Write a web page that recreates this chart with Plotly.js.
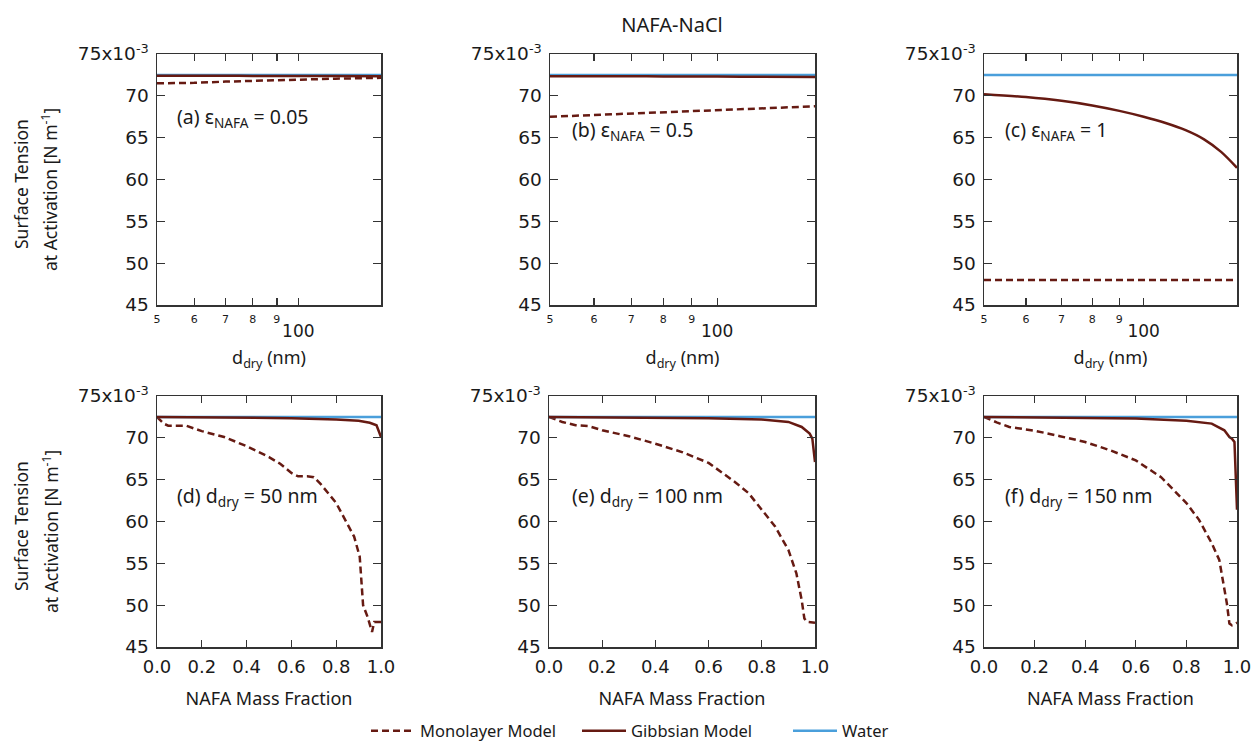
<!DOCTYPE html>
<html>
<head>
<meta charset="utf-8">
<script src="https://cdn.plot.ly/plotly-3.0.1.min.js"></script>
<style>html,body{margin:0;padding:0;background:#fff;}#chart{width:1252px;height:741px;}</style>
</head>
<body>
<div id="chart"></div>
<script>
// ---------- Data (surface tension in units of 1e-3 N m^-1) ----------
var waterST = 72.5;

// Top row: dry diameter (nm)
var ddryA = [50, 60, 70, 80, 90, 100, 120, 150];
var gibbsA = [72.4, 72.4, 72.4, 72.38, 72.38, 72.37, 72.36, 72.35];
var monoA = [71.5, 71.55, 71.7, 71.8, 71.9, 71.95, 72.05, 72.15];

var ddryB = [50, 60, 70, 80, 90, 100, 120, 150];
var gibbsB = [72.35, 72.35, 72.33, 72.32, 72.3, 72.3, 72.28, 72.25];
var monoB = [67.5, 67.7, 67.9, 68.07, 68.19, 68.3, 68.47, 68.75];

var ddryC = [50, 60, 70, 80, 90, 100, 110, 120, 130, 140, 150];
var gibbsC = [70.2, 69.85, 69.4, 68.85, 68.2, 67.5, 66.75, 65.9, 64.8, 63.3, 61.4];
var monoC = [48.0, 48.0, 48.0, 48.0, 48.0, 48.0, 48.0, 48.0, 48.0, 48.0, 48.0];

// Bottom row: NAFA mass fraction
var fracGibbsD = [0, 0.2, 0.4, 0.6, 0.8, 0.9, 0.95, 0.98, 1.0];
var gibbsD = [72.5, 72.45, 72.4, 72.35, 72.2, 72.05, 71.8, 71.5, 70.1];
var fracMonoD = [0, 0.03, 0.05, 0.1, 0.13, 0.2, 0.3, 0.4, 0.5, 0.55, 0.6, 0.63, 0.67, 0.7, 0.73, 0.8, 0.85, 0.88, 0.905, 0.915, 0.92, 0.94, 0.96, 0.97, 0.98, 1.0];
var monoD = [72.5, 71.7, 71.45, 71.5, 71.45, 70.8, 70.1, 69.0, 67.7, 66.9, 65.8, 65.4, 65.4, 65.3, 64.5, 62.2, 59.8, 58.2, 55.8, 52.6, 50.0, 48.6, 46.8, 48.0, 48.0, 48.0];

var fracGibbsE = [0, 0.2, 0.4, 0.6, 0.8, 0.9, 0.95, 0.98, 0.99, 1.0];
var gibbsE = [72.5, 72.45, 72.4, 72.35, 72.2, 71.9, 71.3, 70.5, 69.9, 67.1];
var fracMonoE = [0, 0.05, 0.1, 0.15, 0.2, 0.3, 0.4, 0.5, 0.6, 0.7, 0.75, 0.8, 0.85, 0.9, 0.93, 0.95, 0.96, 0.97, 1.0];
var monoE = [72.5, 71.9, 71.5, 71.4, 70.9, 70.2, 69.3, 68.3, 67.0, 64.7, 63.4, 61.4, 59.4, 56.6, 53.8, 50.6, 48.4, 48.0, 47.9];

var fracGibbsF = [0, 0.2, 0.4, 0.6, 0.8, 0.9, 0.95, 0.97, 0.98, 0.99, 1.0];
var gibbsF = [72.5, 72.45, 72.4, 72.3, 72.05, 71.7, 70.9, 70.1, 69.9, 69.5, 61.4];
var fracMonoF = [0, 0.05, 0.1, 0.2, 0.3, 0.4, 0.5, 0.6, 0.7, 0.8, 0.85, 0.9, 0.93, 0.95, 0.96, 0.97, 0.98, 1.0];
var monoF = [72.5, 71.85, 71.3, 70.85, 70.2, 69.5, 68.5, 67.3, 65.3, 62.2, 60.2, 57.4, 55.4, 52.2, 50.2, 47.8, 47.6, 47.9];

var ddryTickVals = [50, 60, 70, 80, 90, 100];
var ddryTickText = ['5', '6', '7', '8', '9', '<br><span style="font-size:17px">100</span>'];
var fracTickVals = [0, 0.2, 0.4, 0.6, 0.8, 1.0];
var fracTickText = ['0.0', '0.2', '0.4', '0.6', '0.8', '1.0'];
var yTickVals = [45, 50, 55, 60, 65, 70, 75];
var yTickText = ['45', '50', '55', '60', '65', '70', '75x10<sup>-3</sup>'];

var panelLabels = [
  '(a) \u03b5<sub>NAFA</sub> = 0.05',
  '(b) \u03b5<sub>NAFA</sub> = 0.5',
  '(c) \u03b5<sub>NAFA</sub> = 1',
  '(d) d<sub>dry</sub> = 50 nm',
  '(e) d<sub>dry</sub> = 100 nm',
  '(f) d<sub>dry</sub> = 150 nm'
];
var seriesNames = ['Monolayer Model', 'Gibbsian Model', 'Water'];
var yTitleLines = ['Surface Tension', 'at Activation [N m<sup>-1</sup>]'];

// ---------- Styling ----------
var W = 1252, H = 741;
var FONT = 'Noto Sans, Open Sans, sans-serif';
var NUMFONT = 'DejaVu Sans, Noto Sans, sans-serif';
var TXT = '#1a1a1a';
var RED = '#661a12';
var BLUE = '#4a9fdb';
function px(x) { return x / W; }
function py(y) { return 1 - y / H; }

var panels = [
  {x0: 157, x1: 381, y0: 54, y1: 305},
  {x0: 550, x1: 815, y0: 54, y1: 305},
  {x0: 984, x1: 1237, y0: 54, y1: 305},
  {x0: 157, x1: 381, y0: 396, y1: 647},
  {x0: 549, x1: 815, y0: 396, y1: 647},
  {x0: 984, x1: 1237, y0: 396, y1: 647}
];
var labelPos = [[175, 118], [570, 130], [1003, 130], [175, 496], [570, 496], [1003, 496]];

var topData = [
  {x: ddryA, g: gibbsA, mx: ddryA, m: monoA},
  {x: ddryB, g: gibbsB, mx: ddryB, m: monoB},
  {x: ddryC, g: gibbsC, mx: ddryC, m: monoC}
];
var botData = [
  {x: fracGibbsD, g: gibbsD, mx: fracMonoD, m: monoD},
  {x: fracGibbsE, g: gibbsE, mx: fracMonoE, m: monoE},
  {x: fracGibbsF, g: gibbsF, mx: fracMonoF, m: monoF}
];

var traces = [];
var layout = {
  width: W, height: H,
  margin: {l: 0, r: 0, t: 0, b: 0, autoexpand: false},
  paper_bgcolor: '#ffffff', plot_bgcolor: '#ffffff',
  font: {family: FONT, color: TXT, size: 17},
  showlegend: true,
  title: {text: 'NAFA-NaCl', x: px(672), y: py(25), xanchor: 'center', yanchor: 'middle', font: {size: 20, color: TXT, family: FONT}},
  legend: {orientation: 'h', x: px(366), y: py(731), xanchor: 'left', yanchor: 'middle', itemwidth: 44,
           entrywidth: 152, entrywidthmode: 'pixels', font: {size: 16.5, color: TXT}, bgcolor: 'rgba(0,0,0,0)', tracegroupgap: 0},
  annotations: []
};

for (var i = 0; i < 6; i++) {
  var p = panels[i];
  var isTop = i < 3;
  var d = isTop ? topData[i] : botData[i - 3];
  var xa = 'x' + (i === 0 ? '' : (i + 1));
  var ya = 'y' + (i === 0 ? '' : (i + 1));
  var xr = isTop ? [50, 150] : [0, 1];
  traces.push({x: d.mx, y: d.m, xaxis: xa, yaxis: ya, type: 'scatter', mode: 'lines', name: seriesNames[0],
               showlegend: i === 0, legendrank: 1, line: {color: RED, width: 2.5, dash: '7px,4px'}});
  traces.push({x: [xr[0], xr[1]], y: [waterST, waterST], xaxis: xa, yaxis: ya, type: 'scatter', mode: 'lines', name: seriesNames[2],
               showlegend: i === 0, legendrank: 3, line: {color: BLUE, width: 2.5}});
  var gl = {color: RED, width: 2.5};
  if (isTop) { gl.shape = 'spline'; gl.smoothing = 0.8; }
  traces.push({x: d.x, y: d.g, xaxis: xa, yaxis: ya, type: 'scatter', mode: 'lines', name: seriesNames[1],
               showlegend: i === 0, legendrank: 2, line: gl});

  var xkey = 'xaxis' + (i === 0 ? '' : (i + 1));
  var ykey = 'yaxis' + (i === 0 ? '' : (i + 1));
  var xaxis = {
    domain: [px(p.x0), px(p.x1)], anchor: ya, automargin: false,
    showgrid: false, zeroline: false, showline: true, linecolor: '#333', linewidth: 1.5, mirror: 'allticks',
    ticks: 'inside', ticklen: 7, tickwidth: 1.3, tickcolor: '#333', tickangle: 0
  };
  if (isTop) {
    xaxis.type = 'log';
    xaxis.range = [Math.log10(50), Math.log10(150)];
    xaxis.tickmode = 'array'; xaxis.tickvals = ddryTickVals; xaxis.ticktext = ddryTickText;
    xaxis.tickfont = {size: 11, color: TXT, family: NUMFONT};
    xaxis.ticklabelstandoff = 3;
    xaxis.title = {text: 'd<sub>dry</sub> (nm)', font: {size: 18, color: TXT}, standoff: 11};
  } else {
    xaxis.range = [0, 1];
    xaxis.tickmode = 'array'; xaxis.tickvals = fracTickVals; xaxis.ticktext = fracTickText;
    xaxis.tickfont = {size: 18, color: TXT, family: NUMFONT};
    xaxis.ticklabelstandoff = 3;
    xaxis.title = {text: 'NAFA Mass Fraction', font: {size: 18, color: TXT}, standoff: 16};
  }
  layout[xkey] = xaxis;
  layout[ykey] = {
    domain: [py(p.y1), py(p.y0)], anchor: xa, range: [45, 75], automargin: false,
    showgrid: false, zeroline: false, showline: true, linecolor: '#333', linewidth: 1.5, mirror: 'allticks',
    ticks: 'inside', ticklen: 8, tickwidth: 1.3, tickcolor: '#333',
    tickmode: 'array', tickvals: yTickVals, ticktext: yTickText,
    tickfont: {size: 18.5, color: TXT, family: NUMFONT}, ticklabelstandoff: 3
  };
  layout.annotations.push({xref: 'paper', yref: 'paper', x: px(labelPos[i][0]), y: py(labelPos[i][1]),
    xanchor: 'left', yanchor: 'middle', showarrow: false, text: panelLabels[i], font: {size: 19.5, color: TXT}});
}

// Y axis titles (left column), one annotation per line
[[184, 190], [526, 532]].forEach(function (yc) {
  layout.annotations.push({xref: 'paper', yref: 'paper', x: px(21), y: py(yc[0]), xanchor: 'center', yanchor: 'middle',
    textangle: -90, showarrow: false, text: yTitleLines[0], font: {size: 17.5, color: TXT}});
  layout.annotations.push({xref: 'paper', yref: 'paper', x: px(50), y: py(yc[1]), xanchor: 'center', yanchor: 'middle',
    textangle: -90, showarrow: false, text: yTitleLines[1], font: {size: 17.5, color: TXT}});
});

Plotly.newPlot('chart', traces, layout, {staticPlot: true, displayModeBar: false});
</script>
</body>
</html>
